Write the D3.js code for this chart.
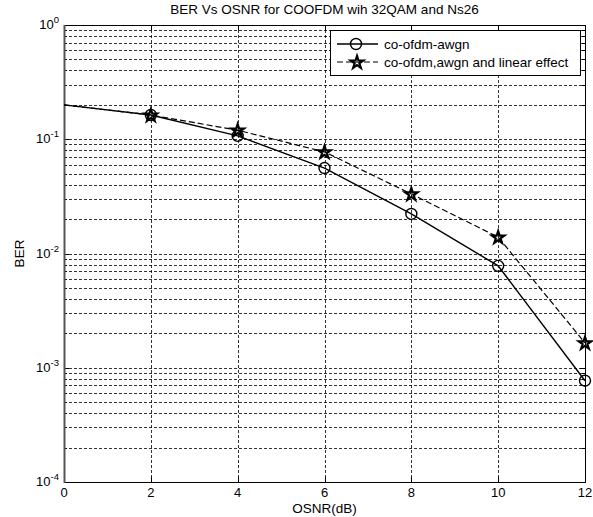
<!DOCTYPE html>
<html>
<head>
<meta charset="utf-8">
<script src="https://cdn.jsdelivr.net/npm/d3@7"></script>
<style>
  body { margin: 0; background: #fff; }
  svg { display: block; }
  text { font-family: "Liberation Sans", Arial, sans-serif; fill: #000; }
</style>
</head>
<body>
<svg id="chart" width="593" height="517"></svg>
<script>
// OSNR sweep (dB) and measured bit error rates
const osnr = [0, 2, 4, 6, 8, 10, 12];
const berAwgn = [0.2, 0.163, 0.107, 0.056, 0.0222, 0.0078, 0.00077];
const berLinear = [0.2, 0.163, 0.12, 0.0775, 0.0332, 0.0139, 0.00165];
const xTicks = [0, 2, 4, 6, 8, 10, 12];
const yDecades = [0, -1, -2, -3, -4];
const seriesNames = ["co-ofdm-awgn", "co-ofdm,awgn and linear effect"];

const svg = d3.select("#chart");
const m = { left: 64, right: 585, top: 25, bottom: 482 };

const x = d3.scaleLinear().domain([0, 12]).range([m.left, m.right]);
const y = d3.scaleLog().domain([1e-4, 1]).range([m.bottom, m.top]);

// minor log values 2..9 in each decade
const minorVals = [];
[-4, -3, -2, -1].forEach(e => {
  for (let k = 2; k <= 9; k++) minorVals.push(k * Math.pow(10, e));
});
const majorVals = yDecades.map(e => Math.pow(10, e));

const grid = svg.append("g").attr("stroke", "#000").attr("stroke-width", 0.8)
  .attr("stroke-dasharray", "3,2").attr("fill", "none");

// horizontal grid (major and minor)
grid.selectAll("line.hy").data(majorVals.concat(minorVals)).join("line")
  .attr("x1", m.left).attr("x2", m.right)
  .attr("y1", d => Math.round(y(d)) + 0.5).attr("y2", d => Math.round(y(d)) + 0.5);

// vertical grid
grid.selectAll("line.vx").data(xTicks).join("line")
  .attr("y1", m.top).attr("y2", m.bottom)
  .attr("x1", d => Math.round(x(d)) + 0.5).attr("x2", d => Math.round(x(d)) + 0.5);

// tick marks (inward) on all four sides
const ticks = svg.append("g").attr("stroke", "#000").attr("stroke-width", 1);
xTicks.forEach(v => {
  const px = Math.round(x(v)) + 0.5;
  ticks.append("line").attr("x1", px).attr("x2", px).attr("y1", m.bottom).attr("y2", m.bottom - 5);
  ticks.append("line").attr("x1", px).attr("x2", px).attr("y1", m.top).attr("y2", m.top + 5);
});
majorVals.forEach(v => {
  const py = Math.round(y(v)) + 0.5;
  ticks.append("line").attr("x1", m.left).attr("x2", m.left + 5).attr("y1", py).attr("y2", py);
  ticks.append("line").attr("x1", m.right).attr("x2", m.right - 5).attr("y1", py).attr("y2", py);
});
minorVals.forEach(v => {
  const py = Math.round(y(v)) + 0.5;
  ticks.append("line").attr("x1", m.left).attr("x2", m.left + 3).attr("y1", py).attr("y2", py);
  ticks.append("line").attr("x1", m.right).attr("x2", m.right - 3).attr("y1", py).attr("y2", py);
});

// axes box
svg.append("rect").attr("x", m.left + 0.5).attr("y", m.top + 0.5)
  .attr("width", m.right - m.left).attr("height", m.bottom - m.top)
  .attr("fill", "none").attr("stroke", "#000").attr("stroke-width", 1);
svg.append("line").attr("x1", m.left + 0.5).attr("x2", m.left + 0.5)
  .attr("y1", m.top).attr("y2", m.bottom + 1).attr("stroke", "#555").attr("stroke-width", 2);

// x tick labels
svg.append("g").selectAll("text").data(xTicks).join("text")
  .attr("x", d => x(d)).attr("y", m.bottom + 15)
  .attr("text-anchor", "middle").attr("font-size", 13).text(d => d);

// y tick labels as 10^e
yDecades.forEach(e => {
  const t = svg.append("text").attr("x", m.left - 5).attr("y", y(Math.pow(10, e)) + 4)
    .attr("text-anchor", "end").attr("font-size", 13);
  t.append("tspan").text("10");
  t.append("tspan").attr("dy", -6).attr("font-size", 9.5).text(e);
});

// titles
svg.append("text").attr("x", (m.left + m.right) / 2).attr("y", 14)
  .attr("text-anchor", "middle").attr("font-size", 13.5)
  .text("BER Vs OSNR for COOFDM wih 32QAM and Ns26");
svg.append("text").attr("x", (m.left + m.right) / 2).attr("y", 513)
  .attr("text-anchor", "middle").attr("font-size", 13.5).text("OSNR(dB)");
svg.append("text").attr("transform", `translate(24,${(m.top + m.bottom) / 2}) rotate(-90)`)
  .attr("text-anchor", "middle").attr("font-size", 13.5).text("BER");

// data lines
const line = d3.line().x(d => x(d[0])).y(d => y(d[1]));
const dataA = osnr.map((v, i) => [v, berAwgn[i]]);
const dataB = osnr.map((v, i) => [v, berLinear[i]]);

const plot = svg.append("g");
plot.append("path").datum(dataB).attr("d", line).attr("fill", "none")
  .attr("stroke", "#000").attr("stroke-width", 1.2).attr("stroke-dasharray", "6,3");
plot.append("path").datum(dataA).attr("d", line).attr("fill", "none")
  .attr("stroke", "#000").attr("stroke-width", 1.4);

const star = d3.symbol().type(d3.symbolStar).size(48);

function drawCircle(g, cx, cy) {
  g.append("circle").attr("cx", cx).attr("cy", cy).attr("r", 5.5)
    .attr("fill", "none").attr("stroke", "#000").attr("stroke-width", 1.4);
}
function drawStar(g, cx, cy) {
  g.append("path").attr("d", star).attr("transform", `translate(${cx},${cy + 0.5})`)
    .attr("fill", "none").attr("stroke", "#000").attr("stroke-width", 2.2);
}

dataA.slice(1).forEach(d => drawCircle(plot, x(d[0]), y(d[1])));
dataB.slice(1).forEach(d => drawStar(plot, x(d[0]), y(d[1])));

// legend
const lg = svg.append("g");
lg.append("rect").attr("x", 330.5).attr("y", 30.5).attr("width", 250).attr("height", 45)
  .attr("fill", "#fff").attr("stroke", "#000").attr("stroke-width", 1);
lg.append("line").attr("x1", 337).attr("x2", 378).attr("y1", 44).attr("y2", 44)
  .attr("stroke", "#000").attr("stroke-width", 1.4);
drawCircle(lg, 356, 44);
lg.append("line").attr("x1", 337).attr("x2", 378).attr("y1", 62).attr("y2", 62)
  .attr("stroke", "#000").attr("stroke-width", 1.2).attr("stroke-dasharray", "6,3");
drawStar(lg, 357, 62);
seriesNames.forEach((n, i) => {
  lg.append("text").attr("x", 384).attr("y", 49 + i * 18).attr("font-size", 13.5).text(n);
});
</script>
</body>
</html>
